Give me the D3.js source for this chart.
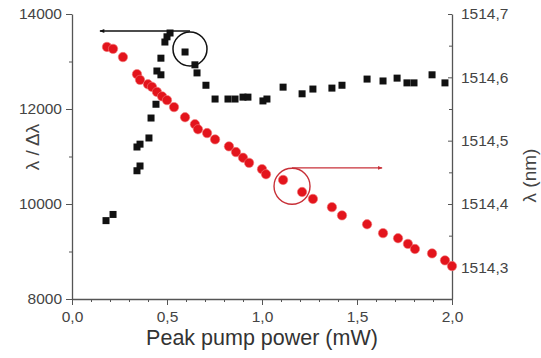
<!DOCTYPE html>
<html>
<head>
<meta charset="utf-8">
<script src="https://cdn.jsdelivr.net/npm/d3@7"></script>
<style>
  body { margin: 0; background: #fff; }
  svg { display: block; font-family: "Liberation Sans", Arial, sans-serif; }
  .axis path, .axis line { stroke: #555; }
  .axis text { fill: #444; }
</style>
</head>
<body>
<svg id="chart" width="541" height="358"></svg>
<script>
// Q factor (lambda / delta lambda), black squares, left axis
const qPower = [0.179, 0.216, 0.342, 0.358, 0.342, 0.358, 0.405, 0.416, 0.442, 0.447,
  0.468, 0.468, 0.489, 0.5, 0.516, 0.595, 0.647, 0.658, 0.705, 0.753,
  0.821, 0.858, 0.9, 0.926, 1.005, 1.026, 1.111, 1.211, 1.268, 1.368,
  1.421, 1.553, 1.637, 1.711, 1.763, 1.8, 1.895, 1.963];
const qValue = [9650, 9780, 10700, 10800, 11200, 11260, 11390, 11810, 12100, 12800,
  12720, 13070, 13410, 13520, 13600, 13200, 12930, 12760, 12500, 12210,
  12210, 12210, 12250, 12250, 12170, 12210, 12460, 12320, 12420, 12440,
  12500, 12630, 12590, 12650, 12550, 12550, 12720, 12550];

// resonance wavelength (nm), red dots, right axis
const wlPower = [0.184, 0.216, 0.268, 0.342, 0.358, 0.4, 0.421, 0.447, 0.474, 0.5,
  0.537, 0.595, 0.647, 0.663, 0.711, 0.753, 0.826, 0.863, 0.9, 0.932,
  1.0, 1.021, 1.111, 1.211, 1.268, 1.368, 1.421, 1.553, 1.637, 1.716,
  1.768, 1.805, 1.895, 1.963, 2.0];
const wlValue = [1514.648, 1514.645, 1514.632, 1514.605, 1514.596, 1514.589, 1514.585, 1514.577, 1514.570, 1514.564,
  1514.553, 1514.537, 1514.526, 1514.518, 1514.512, 1514.502, 1514.491, 1514.482, 1514.473, 1514.465,
  1514.455, 1514.447, 1514.438, 1514.419, 1514.408, 1514.395, 1514.382, 1514.368, 1514.354, 1514.346,
  1514.337, 1514.329, 1514.322, 1514.311, 1514.302];

const xTicks = [0, 0.5, 1.0, 1.5, 2.0];
const leftTicks = [8000, 10000, 12000, 14000];
const rightTicks = [1514.3, 1514.4, 1514.5, 1514.6, 1514.7];

// annotation anchors, in data units
const qMark = {x: 0.621, y: 13263, arrowX: 0.147, arrowY: 13642};
const wlMark = {x: 1.158, y: 1514.428, arrowX: 1.632, arrowY: 1514.457};

const svg = d3.select("#chart");
const margin = {left: 72, right: 89, top: 14, bottom: 59};
const width = 541, height = 358;

const x = d3.scaleLinear().domain([0, 2]).range([margin.left, width - margin.right]);
const yL = d3.scaleLinear().domain([8000, 14000]).range([height - margin.bottom, margin.top]);
const yR = d3.scaleLinear().domain([1514.25, 1514.7]).range([height - margin.bottom, margin.top]);

const comma = d => d3.format(".1f")(d).replace(".", ",");

// minor ticks first
svg.append("g").attr("class", "axis")
  .attr("transform", `translate(0,${height - margin.bottom})`)
  .call(d3.axisBottom(x).tickValues(d3.range(0, 2.001, 0.1)).tickSize(3).tickFormat(""))
  .call(g => g.select(".domain").remove());
svg.append("g").attr("class", "axis")
  .attr("transform", `translate(${margin.left},0)`)
  .call(d3.axisLeft(yL).tickValues([9000, 11000, 13000]).tickSize(3).tickFormat(""))
  .call(g => g.select(".domain").remove());
svg.append("g").attr("class", "axis")
  .attr("transform", `translate(${width - margin.right},0)`)
  .call(d3.axisLeft(yR).tickValues([1514.35, 1514.45, 1514.55, 1514.65]).tickSize(3).tickFormat(""))
  .call(g => g.select(".domain").remove());

// main axes
svg.append("g").attr("class", "axis")
  .attr("transform", `translate(0,${height - margin.bottom})`)
  .call(d3.axisBottom(x).tickValues(xTicks).tickSize(6).tickPadding(6).tickFormat(comma).tickSizeOuter(0))
  .call(g => g.selectAll("text").attr("font-size", 15.5))
  .call(g => g.select(".domain").attr("stroke-width", 1.3));

svg.append("g").attr("class", "axis")
  .attr("transform", `translate(${margin.left},0)`)
  .call(d3.axisLeft(yL).tickValues(leftTicks).tickSize(6).tickPadding(4).tickFormat(d3.format("d")).tickSizeOuter(0))
  .call(g => g.selectAll("text").attr("font-size", 15.5))
  .call(g => g.select(".domain").attr("stroke-width", 1.3));

const right = svg.append("g").attr("class", "axis")
  .attr("transform", `translate(${width - margin.right},0)`)
  .call(d3.axisRight(yR).tickValues(rightTicks).tickSize(0).tickPadding(9)
    .tickFormat(comma).tickSizeOuter(0))
  .call(g => g.selectAll("text").attr("font-size", 15.5))
  .call(g => g.select(".domain").attr("stroke-width", 1.3));
right.selectAll(".tick line").attr("x2", -4);

// axis titles
svg.append("text")
  .attr("x", x(1.0)).attr("y", 345)
  .attr("text-anchor", "middle")
  .attr("font-size", 21.5)
  .attr("fill", "#333")
  .text("Peak pump power (mW)");

svg.append("text")
  .attr("transform", `translate(39,${yL(11200)}) rotate(-90)`)
  .attr("text-anchor", "middle")
  .attr("font-size", 19)
  .attr("fill", "#444")
  .text("λ / Δλ");

svg.append("text")
  .attr("transform", `translate(536,${yR(1514.445)}) rotate(-90)`)
  .attr("text-anchor", "middle")
  .attr("font-size", 19)
  .attr("fill", "#444")
  .text("λ (nm)");

// data marks
const sq = 7;
svg.append("g")
  .selectAll("rect")
  .data(d3.zip(qPower, qValue))
  .join("rect")
  .attr("x", d => x(d[0]) - sq / 2)
  .attr("y", d => yL(d[1]) - sq / 2)
  .attr("width", sq)
  .attr("height", sq)
  .attr("fill", "#111");

svg.append("g")
  .selectAll("circle")
  .data(d3.zip(wlPower, wlValue))
  .join("circle")
  .attr("cx", d => x(d[0]))
  .attr("cy", d => yR(d[1]))
  .attr("r", 4.7)
  .attr("fill", "#e3141c")
  .attr("stroke", "#f27a7a")
  .attr("stroke-opacity", 0.6)
  .attr("stroke-width", 1);

// annotations: circles with arrows pointing to their axis
const defs = svg.append("defs");
[["arrBlack", "#111"], ["arrRed", "#c83038"]].forEach(([id, c]) => {
  defs.append("marker")
    .attr("id", id)
    .attr("viewBox", "0 0 10 10")
    .attr("refX", 9).attr("refY", 5)
    .attr("markerWidth", 5).attr("markerHeight", 3.5)
    .attr("orient", "auto-start-reverse")
    .append("path")
    .attr("d", "M0,1 L10,5 L0,9 Z")
    .attr("fill", c);
});

svg.append("circle")
  .attr("cx", x(qMark.x)).attr("cy", yL(qMark.y)).attr("r", 17)
  .attr("fill", "none").attr("stroke", "#111").attr("stroke-width", 1.5);
svg.append("line")
  .attr("x1", x(qMark.x)).attr("y1", yL(qMark.arrowY))
  .attr("x2", x(qMark.arrowX)).attr("y2", yL(qMark.arrowY))
  .attr("stroke", "#111").attr("stroke-width", 1.4)
  .attr("marker-end", "url(#arrBlack)");

svg.append("circle")
  .attr("cx", x(wlMark.x)).attr("cy", yR(wlMark.y)).attr("r", 18)
  .attr("fill", "none").attr("stroke", "#c83038").attr("stroke-width", 1.4);
svg.append("line")
  .attr("x1", x(wlMark.x)).attr("y1", yR(wlMark.arrowY))
  .attr("x2", x(wlMark.arrowX)).attr("y2", yR(wlMark.arrowY))
  .attr("stroke", "#c83038").attr("stroke-width", 1.3)
  .attr("marker-end", "url(#arrRed)");
</script>
</body>
</html>
